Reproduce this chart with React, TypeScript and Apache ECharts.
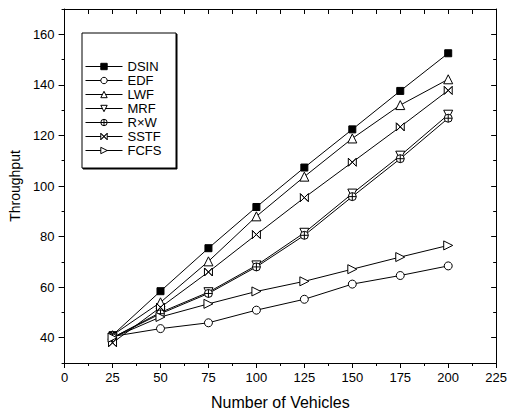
import React, { useEffect, useRef } from "react";
import * as echarts from "echarts";

// Number of vehicles on the x axis
const vehicles = [25, 50, 75, 100, 125, 150, 175, 200];

// Throughput of each scheduling policy
const dsin = [41, 58.4, 75.4, 91.7, 107.3, 122.4, 137.6, 152.5];
const edf = [40.5, 43.6, 45.9, 50.9, 55.2, 61.2, 64.6, 68.4];
const lwf = [41, 54, 70.2, 88, 103.7, 118.8, 132, 142.2];
const mrf = [40, 50, 58, 68.6, 81.5, 97, 112, 128.2];
const rxw = [40, 49.5, 57.5, 68, 80.5, 95.8, 110.8, 126.8];
const sstf = [38, 52, 66, 80.8, 95.4, 109.4, 123.4, 137.8];
const fcfs = [40, 48.2, 53.4, 58.3, 62.3, 67.1, 71.9, 76.5];

// Tick values
const yMajorTicks = [40, 60, 80, 100, 120, 140, 160];
const yMinorTicks = [30, 50, 70, 90, 110, 130, 150, 170];

const FONT = "'Liberation Sans', Arial, Helvetica, sans-serif";

const SYM_DOWN = "path://M0,0L10,0L5,9Z";
const SYM_RIGHT = "path://M0,0L9,5L0,10Z";
const SYM_CIRCLE_PLUS =
  "path://M5,0A5,5,0,1,1,5,10A5,5,0,1,1,5,0ZM5,0L5,10M0,5L10,5";
const SYM_BOWTIE = "path://M0,0L10,10L10,0L0,10ZM0,0L10,10M10,0L0,10";

type Spec = { name: string; values: number[]; symbol: string; size: number; fill: string };

const specs: Spec[] = [
  { name: "DSIN", values: dsin, symbol: "rect", size: 7, fill: "#000" },
  { name: "EDF", values: edf, symbol: "circle", size: 8, fill: "#fff" },
  { name: "LWF", values: lwf, symbol: "triangle", size: 9, fill: "#fff" },
  { name: "MRF", values: mrf, symbol: SYM_DOWN, size: 9, fill: "#fff" },
  { name: "R\u00d7W", values: rxw, symbol: SYM_CIRCLE_PLUS, size: 8, fill: "#fff" },
  { name: "SSTF", values: sstf, symbol: SYM_BOWTIE, size: 8, fill: "#fff" },
  { name: "FCFS", values: fcfs, symbol: SYM_RIGHT, size: 9, fill: "#fff" },
];

export default function App() {
  const ref = useRef<HTMLDivElement>(null);

  useEffect(() => {
    if (!ref.current) return;
    const chart = echarts.init(ref.current, undefined, { renderer: "svg" });

    const axisLine = { show: true, lineStyle: { color: "#000", width: 1 } };

    const yBase = {
      type: "value" as const,
      min: 30,
      max: 170,
      splitLine: { show: false },
    };

    chart.setOption({
      animation: false,
      backgroundColor: "#fff",
      textStyle: { fontFamily: FONT },
      grid: { left: 63, right: 13, top: 9, bottom: 53 },
      xAxis: [
        {
          type: "value",
          position: "bottom",
          min: 0,
          max: 225,
          interval: 25,
          axisLine,
          axisTick: { show: true, inside: false, length: 5, lineStyle: { color: "#000" } },
          minorTick: { show: true, splitNumber: 2, length: 3, lineStyle: { color: "#000" } },
          splitLine: { show: false },
          axisLabel: { color: "#000", fontSize: 13, fontFamily: FONT, margin: 8 },
          name: "Number of Vehicles",
          nameLocation: "middle",
          nameGap: 31,
          nameTextStyle: { color: "#000", fontSize: 16, fontFamily: FONT },
        },
        {
          type: "value",
          position: "top",
          min: 0,
          max: 225,
          interval: 25,
          axisLine,
          axisTick: { show: true, inside: true, length: 5, lineStyle: { color: "#000" } },
          minorTick: { show: true, splitNumber: 2, length: 5, lineStyle: { color: "#000" } },
          splitLine: { show: false },
          axisLabel: { show: false },
        },
      ],
      yAxis: [
        {
          ...yBase,
          position: "left",
          axisLine,
          axisTick: {
            show: true,
            inside: false,
            length: 6,
            customValues: yMajorTicks,
            lineStyle: { color: "#000" },
          },
          axisLabel: {
            color: "#000",
            fontSize: 13,
            fontFamily: FONT,
            margin: 10,
            customValues: yMajorTicks,
          },
          name: "Throughput",
          nameLocation: "middle",
          nameGap: 41,
          nameTextStyle: { color: "#000", fontSize: 14, fontFamily: FONT },
        },
        {
          ...yBase,
          position: "left",
          axisLine: { show: false },
          axisTick: {
            show: true,
            inside: false,
            length: 3,
            customValues: yMinorTicks,
            lineStyle: { color: "#000" },
          },
          axisLabel: { show: false },
        },
        {
          ...yBase,
          position: "right",
          axisLine,
          axisTick: {
            show: true,
            inside: true,
            length: 5,
            customValues: yMajorTicks,
            lineStyle: { color: "#000" },
          },
          axisLabel: { show: false },
        },
        {
          ...yBase,
          position: "right",
          axisLine: { show: false },
          axisTick: {
            show: true,
            inside: true,
            length: 3,
            customValues: yMinorTicks,
            lineStyle: { color: "#000" },
          },
          axisLabel: { show: false },
        },
      ],
      legend: {
        orient: "vertical",
        left: 85,
        top: 60,
        padding: 0,
        itemWidth: 37,
        itemHeight: 8,
        itemGap: 1,
        lineStyle: { width: 1 },
        itemStyle: { borderWidth: 1 },
        textStyle: { color: "#000", fontSize: 13, lineHeight: 12, fontFamily: FONT },
        data: specs.map((s) => s.name),
      },
      graphic: [
        {
          type: "rect",
          z: 3,
          shape: { x: 83, y: 34, width: 94, height: 135 },
          style: { fill: "#000", stroke: "#000", lineWidth: 1 },
        },
        {
          type: "rect",
          z: 3,
          shape: { x: 82, y: 33, width: 94, height: 135 },
          style: { fill: "#fff", stroke: "#000", lineWidth: 1 },
        },
      ],
      series: specs.map((s) => ({
        name: s.name,
        type: "line",
        xAxisIndex: 0,
        yAxisIndex: 0,
        data: vehicles.map((v, i) => [v, s.values[i]]),
        symbol: s.symbol,
        symbolSize: s.size,
        showAllSymbol: true,
        lineStyle: { color: "#000", width: 1 },
        itemStyle: { color: s.fill, borderColor: "#000", borderWidth: 1 },
        emphasis: { disabled: true },
      })),
    });

    return () => chart.dispose();
  }, []);

  return (
    <div
      ref={ref}
      style={{ position: "fixed", left: 0, top: 0, width: 510, height: 416 }}
    />
  );
}
